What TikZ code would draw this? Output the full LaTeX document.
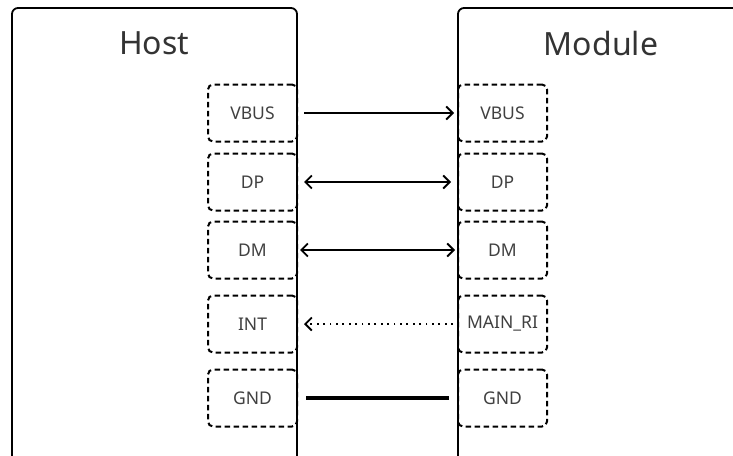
\documentclass[tikz,border=0pt]{standalone}
\usepackage{fontspec}
\setmainfont{Noto Sans}
\usetikzlibrary{arrows.meta}
\begin{document}
\begin{tikzpicture}[x=1pt,y=-1pt,
  box/.style={draw=black,line width=1.8pt,rounded corners=6pt},
  pin/.style={draw=black,line width=2pt,dash pattern=on 5.5pt off 3.5pt,rounded corners=5pt,
    minimum width=89pt,minimum height=57pt,inner sep=0pt,text=black!75,font=\fontsize{17.5}{19}\selectfont},
  title/.style={text=black!80,font=\fontsize{32}{34}\selectfont},
  barb/.tip={Straight Barb[length=6.5pt,width=13pt,line width=1.8pt]},
  conn/.style={line width=1.8pt},
]
\useasboundingbox (0,0) rectangle (733,455);
\draw[box] (12,457) -- (12,8) -- (297,8) -- (297,457);
\draw[box] (458,457) -- (458,8) -- (745,8) -- (745,457);
\node[title] (host) at (154,43) {Host};
\node[title] (module) at (601,43) {Module};
% host pins
\node[pin] (hv) at (252.5,113) {VBUS};
\node[pin] (hp) at (252.5,182) {DP};
\node[pin] (hm) at (252.5,250) {DM};
\node[pin] (hi) at (252.5,324) {INT};
\node[pin] (hg) at (252.5,398) {GND};
% module pins
\node[pin] (mv) at (502.5,113) {VBUS};
\node[pin] (mp) at (502.5,182) {DP};
\node[pin] (mm) at (502.5,250) {DM};
\node[pin] (mi) at (502.5,324) {MAIN\_RI};
\node[pin] (mg) at (502.5,398) {GND};
% connectors
\draw[-barb,conn] ([xshift=6pt]hv.east) -- ([xshift=-3pt]mv.west);
\draw[barb-barb,conn] ([xshift=6pt]hp.east) -- ([xshift=-6pt]mp.west);
\draw[barb-barb,conn] ([xshift=2pt]hm.east) -- ([xshift=-2pt]mm.west);
\draw[-barb,conn,dash pattern=on 1.8pt off 4.6pt] ([xshift=-4pt]mi.west) -- ([xshift=6pt]hi.east);
\draw[line width=4pt] ([xshift=8pt]hg.east) -- ([xshift=-8pt]mg.west);
\end{tikzpicture}
\end{document}
